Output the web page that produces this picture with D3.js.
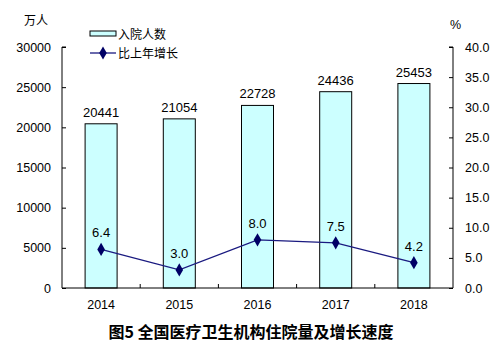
<!DOCTYPE html>
<html><head><meta charset="utf-8">
<script src="https://cdn.jsdelivr.net/npm/d3@7"></script>
<style>body{margin:0;background:#fff}svg{display:block}</style>
</head><body>
<svg id="c" width="503" height="344"></svg>
<script>
const years = ["2014","2015","2016","2017","2018"];
const admissions = [20441,21054,22728,24436,25453];
const growth = [6.4,3.0,8.0,7.5,4.2];
const leftTicks = [0,5000,10000,15000,20000,25000,30000];
const rightTicks = [0,5,10,15,20,25,30,35,40];

const svg = d3.select("#c");
const font = "'Liberation Sans', Arial, sans-serif";
const cjk = "'Noto Sans CJK SC', sans-serif";
const L = 62, R = 453, T = 47, B = 288;

const x = d3.scaleBand().domain(years).range([L, R]);
const yL = d3.scaleLinear().domain([0,30000]).range([B, T]);
const yR = d3.scaleLinear().domain([0,40]).range([B, T]);

// bars
svg.selectAll("rect.bar").data(admissions).join("rect")
  .attr("x", (d,i) => x(years[i]) + x.bandwidth()/2 - 16)
  .attr("y", d => yL(d)).attr("width", 32).attr("height", d => B - yL(d))
  .attr("fill", "#ccffff").attr("stroke", "#000").attr("stroke-width", 1);

svg.selectAll("text.bv").data(admissions).join("text")
  .attr("x", (d,i) => x(years[i]) + x.bandwidth()/2).attr("y", d => yL(d) - 7)
  .attr("text-anchor","middle").attr("font-family",font).attr("font-size",13).text(d => d);

// axes
const gl = svg.append("g").attr("transform",`translate(${L},0)`)
  .call(d3.axisRight(yL).tickValues(leftTicks).tickSize(4).tickFormat(""));
const gr = svg.append("g").attr("transform",`translate(${R},0)`)
  .call(d3.axisLeft(yR).tickValues(rightTicks).tickSize(4).tickFormat(""));
const gb = svg.append("g").attr("transform",`translate(0,${B})`)
  .call(d3.axisTop(x).tickValues([]).tickSizeOuter(0));
[gl,gr].forEach(g => g.select(".domain").attr("d", g===gl ? `M4,${T}H0V${B}` : `M-4,${T}H0V${B}`));
gb.select(".domain").attr("d", `M${L},0H${R}`);
svg.selectAll(".domain, .tick line").attr("stroke","#000");
// category separators on the base line
years.slice(1).forEach(yr => {
  svg.append("line").attr("x1", x(yr)).attr("x2", x(yr)).attr("y1", B).attr("y2", B-4).attr("stroke","#000");
});

svg.selectAll("text.lt").data(leftTicks).join("text")
  .attr("x", 51).attr("y", d => yL(d) + 4.5).attr("text-anchor","end")
  .attr("font-family",font).attr("font-size",12.5).text(d => d);
svg.selectAll("text.rt").data(rightTicks).join("text")
  .attr("x", 465).attr("y", d => yR(d) + 4.5).attr("text-anchor","start")
  .attr("font-family",font).attr("font-size",12.5).text(d => d3.format(".1f")(d));
svg.selectAll("text.xt").data(years).join("text")
  .attr("x", d => x(d) + x.bandwidth()/2).attr("y", 309).attr("text-anchor","middle")
  .attr("font-family",font).attr("font-size",12.5).text(d => d);

svg.append("text").attr("x",24).attr("y",25).attr("font-family",cjk).attr("font-size",12).text("万人");
svg.append("text").attr("x",450).attr("y",29).attr("font-family",font).attr("font-size",12.5).text("%");

// growth line
const line = d3.line().x((d,i) => x(years[i]) + x.bandwidth()/2).y(d => yR(d));
svg.append("path").datum(growth).attr("d", line).attr("fill","none")
  .attr("stroke","#1a1a80").attr("stroke-width",1.3);
const diamond = d3.symbol().type(d3.symbolDiamond).size(50);
svg.selectAll("path.pt").data(growth).join("path")
  .attr("transform",(d,i) => `translate(${x(years[i]) + x.bandwidth()/2},${yR(d)})`)
  .attr("d", diamond).attr("fill","#000066");
svg.selectAll("text.gv").data(growth).join("text")
  .attr("x",(d,i) => x(years[i]) + x.bandwidth()/2).attr("y", d => yR(d) - 12)
  .attr("text-anchor","middle").attr("font-family",font).attr("font-size",13)
  .text(d => d3.format(".1f")(d));

// legend
svg.append("rect").attr("x",90).attr("y",31).attr("width",26).attr("height",5)
  .attr("fill","#ccffff").attr("stroke","#000");
svg.append("text").attr("x",118).attr("y",39).attr("font-family",cjk).attr("font-size",12).text("入院人数");
svg.append("line").attr("x1",90).attr("x2",116).attr("y1",53).attr("y2",53).attr("stroke","#1a1a80").attr("stroke-width",1.3);
svg.append("path").attr("transform","translate(103,53)").attr("d",diamond).attr("fill","#000066");
svg.append("text").attr("x",118).attr("y",58).attr("font-family",cjk).attr("font-size",12).text("比上年增长");

// title
svg.append("text").attr("x",251).attr("y",338).attr("text-anchor","middle")
  .attr("font-family",cjk).attr("font-weight","bold").attr("font-size",16)
  .text("图5  全国医疗卫生机构住院量及增长速度");
</script>
</body></html>
